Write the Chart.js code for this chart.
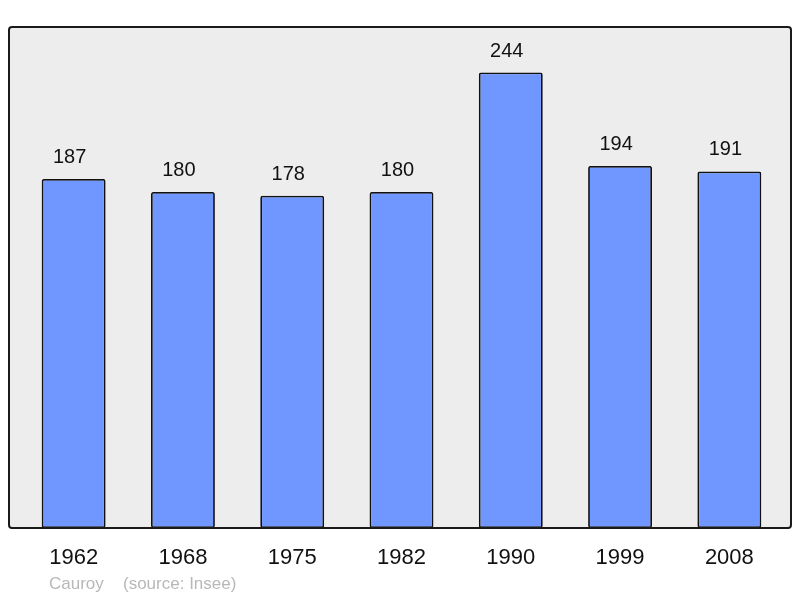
<!DOCTYPE html>
<html>
<head>
<meta charset="utf-8">
<script src="https://cdn.jsdelivr.net/npm/chart.js@4"></script>
<style>
  html, body { margin: 0; padding: 0; background: #fff; }
  #wrap { width: 800px; height: 598px; }
</style>
</head>
<body>
<div id="wrap"><canvas id="myChart" width="800" height="598"></canvas></div>
<script>
// Population data
const years = ["1962", "1968", "1975", "1982", "1990", "1999", "2008"];
const population = [187, 180, 178, 180, 244, 194, 191];
const townName = "Cauroy";
const sourceText = "(source: Insee)";

// Frame, labels and footer drawn from the chart scales
const decor = {
  id: "decor",
  beforeDraw(chart) {
    const { ctx, chartArea: a } = chart;
    const x0 = a.left - 10, x1 = a.right + 7;
    ctx.save();
    ctx.beginPath();
    ctx.roundRect(x0, a.top, x1 - x0, a.bottom - a.top, 3);
    ctx.fillStyle = "#ededed";
    ctx.fill();
    ctx.restore();
  },
  afterDatasetsDraw(chart) {
    const { ctx, chartArea: a, scales } = chart;
    const x0 = a.left - 10, x1 = a.right + 7;
    ctx.save();
    ctx.beginPath();
    ctx.roundRect(x0, a.top, x1 - x0, a.bottom - a.top, 3);
    ctx.lineWidth = 2;
    ctx.strokeStyle = "#1a1a1a";
    ctx.stroke();

    ctx.fillStyle = "#111";
    ctx.textAlign = "center";
    ctx.textBaseline = "alphabetic";
    ctx.font = "20px 'Liberation Sans', Arial, sans-serif";
    population.forEach((v, i) => {
      const x = scales.x.getPixelForValue(i);
      const y = scales.y.getPixelForValue(v);
      ctx.fillText(String(v), x - 4, y - 16);
    });

    ctx.font = "22px 'Liberation Sans', Arial, sans-serif";
    years.forEach((yr, i) => {
      ctx.fillText(yr, scales.x.getPixelForValue(i), a.bottom + 36);
    });

    ctx.fillStyle = "#b8b8b8";
    ctx.textAlign = "left";
    ctx.font = "17px 'Liberation Sans', Arial, sans-serif";
    ctx.fillText(townName, 49, a.bottom + 61);
    ctx.fillText(sourceText, 123, a.bottom + 61);
    ctx.restore();
  }
};

const ctx = document.getElementById("myChart").getContext("2d");
new Chart(ctx, {
  type: "bar",
  data: {
    labels: years,
    datasets: [{
      data: population,
      backgroundColor: "#7096ff",
      borderColor: "#111",
      borderWidth: 1.8,
      borderRadius: 2,
      borderSkipped: false,
      barPercentage: 0.585,
      categoryPercentage: 1
    }]
  },
  options: {
    responsive: false,
    animation: false,
    layout: { padding: { left: 19, right: 16, top: 27, bottom: 70 } },
    plugins: { legend: { display: false }, tooltip: { enabled: false } },
    scales: {
      x: { display: false },
      y: { display: false, min: 0, max: Math.max(...population) * 1.1 }
    }
  },
  plugins: [decor]
});
</script>
</body>
</html>
